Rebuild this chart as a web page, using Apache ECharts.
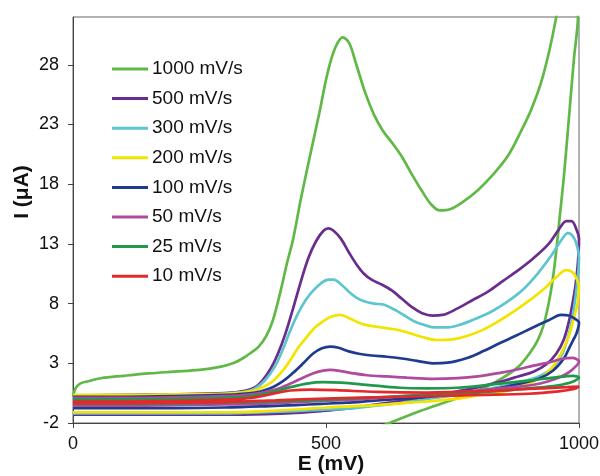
<!DOCTYPE html>
<html>
<head>
<meta charset="utf-8">
<script src="https://cdn.jsdelivr.net/npm/echarts@6/dist/echarts.min.js"></script>
<style>html,body{margin:0;padding:0;background:#fff;}#c{width:600px;height:476px;}</style>
</head>
<body>
<div id="c"></div>
<script>
// Legend names (scan rates)
const seriesNames = ['1000 mV/s','500 mV/s','300 mV/s','200 mV/s','100 mV/s','50 mV/s','25 mV/s','10 mV/s'];
const seriesColors = ['#60b946','#6a2d8e','#5ec5cf','#f3e400','#1f3b8f','#b04a9e','#1f9a4a','#e22a2e'];
const xTicks = [0, 500, 1000];
const yTicks = [-2, 3, 8, 13, 18, 23, 28];

// [E (mV), I (uA)] in scan order: forward 0 -> 1000, then reverse 1000 -> 0
const cv1000 = [[0,0.2],[5,0.9],[14,1.3],[30,1.5],[55,1.75],[100,1.95],[150,2.15],[200,2.3],[250,2.45],[290,2.7],[316,3.0],[335,3.4],[352,3.9],[367,4.4],[382,5.3],[395,6.6],[410,9.0],[423,11.4],[435,13.4],[450,16.7],[468,20.3],[487,24.0],[503,27.3],[518,29.4],[533,30.3],[546,29.8],[560,28.0],[578,25.6],[595,23.8],[612,22.5],[630,21.5],[650,20.3],[670,18.8],[690,17.4],[708,16.3],[725,15.8],[745,15.9],[770,16.5],[800,17.5],[830,18.8],[860,20.4],[885,22.4],[905,24.2],[925,26.5],[942,29.3],[955,32.0],[970,35.5],[1000,40],[998,32],[990,28.5],[980,23.5],[970,18.6],[962,15.3],[955,12.4],[948,10.0],[940,8.0],[930,6.2],[918,4.9],[900,3.7],[880,2.7],[850,1.8],[815,1.0],[780,0.4],[740,-0.2],[686,-1.0],[626,-2.0],[590,-2.6],[550,-3.2]];
const cv500 = [[0,0.3],[100,0.35],[200,0.4],[300,0.5],[340,0.7],[360,1.0],[375,1.6],[390,2.5],[405,3.8],[420,5.5],[435,7.6],[450,9.8],[465,11.8],[480,13.2],[495,14.1],[505,14.3],[515,14.1],[530,13.4],[545,12.3],[560,11.3],[575,10.5],[590,10.0],[610,9.6],[630,9.1],[650,8.4],[670,7.7],[690,7.2],[710,7.0],[730,7.05],[760,7.6],[790,8.3],[820,9.0],[850,9.9],[880,10.8],[910,11.8],[940,13.0],[960,14.2],[975,14.9],[985,14.9],[995,14.2],[1000,13.4],[998,11.5],[993,9.5],[988,8.2],[980,6.5],[970,5.0],[955,3.8],[935,2.9],[910,2.3],[880,1.9],[840,1.4],[790,0.9],[740,0.5],[690,0.1],[640,-0.2],[590,-0.5],[540,-0.8],[490,-1.0],[440,-1.15],[380,-1.25],[300,-1.3],[200,-1.3],[100,-1.3],[0,-1.3]];
const cv300 = [[0,0.3],[100,0.3],[200,0.35],[300,0.45],[340,0.6],[360,0.9],[380,1.6],[400,2.8],[415,4.2],[430,5.8],[445,7.2],[460,8.3],[475,9.1],[490,9.7],[505,10.0],[515,10.0],[530,9.6],[545,9.0],[560,8.5],[575,8.2],[595,8.0],[615,7.9],[635,7.5],[655,7.0],[675,6.5],[695,6.2],[715,6.0],[740,6.0],[770,6.3],[800,6.8],[830,7.4],[860,8.2],[890,9.2],[920,10.6],[945,12.0],[965,13.3],[978,13.9],[990,13.5],[998,12.5],[1000,11.8],[997,10.0],[990,7.6],[982,5.8],[972,4.3],[962,3.4],[945,2.5],[920,1.9],[883,1.4],[840,1.0],[790,0.6],[740,0.25],[690,-0.05],[640,-0.35],[590,-0.6],[540,-0.8],[490,-0.9],[440,-1.0],[380,-1.1],[300,-1.2],[200,-1.2],[100,-1.2],[0,-1.2]];
const cv200 = [[0,0.35],[100,0.35],[200,0.4],[300,0.45],[350,0.65],[375,1.0],[395,1.5],[415,2.4],[430,3.3],[445,4.3],[462,5.2],[478,6.0],[494,6.5],[510,6.9],[528,7.05],[545,6.8],[565,6.4],[585,6.15],[610,6.0],[635,5.85],[660,5.6],[690,5.2],[720,4.95],[750,5.0],[780,5.3],[810,5.8],[840,6.5],[870,7.3],[900,8.2],[930,9.2],[955,10.2],[975,10.8],[988,10.6],[997,9.9],[1000,9.5],[997,8.0],[990,6.8],[980,5.3],[968,4.1],[950,2.8],[929,1.9],[900,1.3],[850,0.6],[800,0.3],[750,0.0],[700,-0.2],[650,-0.35],[600,-0.5],[550,-0.6],[500,-0.7],[450,-0.85],[380,-1.0],[300,-1.1],[200,-1.1],[100,-1.1],[0,-1.1]];
const cv100 = [[0,0.2],[100,0.2],[200,0.25],[300,0.35],[360,0.55],[390,0.9],[415,1.5],[435,2.2],[455,3.0],[474,3.8],[492,4.25],[508,4.4],[525,4.3],[545,4.0],[565,3.8],[590,3.65],[620,3.55],[650,3.4],[680,3.2],[711,3.0],[740,3.05],[779,3.45],[810,4.0],[844,4.7],[875,5.3],[909,6.0],[940,6.6],[965,7.05],[980,7.0],[993,6.7],[1000,6.4],[995,5.5],[988,4.9],[982,4.4],[970,3.4],[949,2.4],[920,1.7],[883,1.3],[840,0.9],[790,0.6],[740,0.35],[690,0.15],[640,0.0],[590,-0.15],[540,-0.3],[490,-0.4],[440,-0.5],[380,-0.6],[300,-0.7],[200,-0.75],[100,-0.75],[0,-0.75]];
const cv50 = [[0,0.1],[100,0.1],[200,0.15],[300,0.25],[360,0.45],[400,0.8],[430,1.3],[460,1.9],[485,2.3],[508,2.45],[530,2.35],[555,2.15],[581,2.0],[620,1.9],[660,1.8],[711,1.7],[760,1.75],[800,1.9],[844,2.2],[880,2.5],[910,2.8],[943,3.1],[970,3.4],[988,3.45],[997,3.3],[1000,3.1],[995,2.8],[982,2.3],[965,1.9],[940,1.5],[910,1.2],[870,1.0],[820,0.8],[770,0.6],[720,0.45],[670,0.3],[620,0.15],[570,0.0],[520,-0.1],[470,-0.2],[400,-0.35],[300,-0.45],[200,-0.5],[100,-0.55],[0,-0.55]];
const cv25 = [[0,-0.05],[100,-0.05],[200,0.0],[300,0.1],[360,0.3],[400,0.65],[430,1.0],[462,1.3],[494,1.42],[530,1.38],[580,1.2],[646,0.95],[700,0.9],[760,0.95],[844,1.3],[900,1.55],[950,1.8],[988,1.95],[1000,1.8],[990,1.5],[970,1.25],[949,1.1],[900,0.9],[850,0.7],[800,0.55],[750,0.45],[700,0.35],[650,0.25],[600,0.15],[550,0.05],[500,-0.05],[400,-0.2],[300,-0.3],[200,-0.35],[100,-0.4],[0,-0.4]];
const cv10 = [[0,-0.2],[100,-0.2],[200,-0.15],[300,-0.05],[360,0.15],[400,0.5],[430,0.72],[470,0.8],[520,0.75],[600,0.6],[700,0.55],[800,0.65],[900,0.85],[976,1.0],[1000,1.05],[990,0.85],[960,0.65],[900,0.45],[800,0.35],[700,0.25],[600,0.15],[500,0.05],[400,-0.1],[300,-0.25],[200,-0.3],[100,-0.35],[0,-0.35]];

const allData = [cv1000, cv500, cv300, cv200, cv100, cv50, cv25, cv10];

const chart = echarts.init(document.getElementById('c'), null, {renderer: 'canvas'});
const font = 'Liberation Sans, Arial, sans-serif';
chart.setOption({
  animation: false,
  backgroundColor: '#fff',
  grid: {left: 73, right: 21, top: 17, bottom: 53, show: true, borderColor: '#666', borderWidth: 1, backgroundColor: 'transparent', outerBoundsMode: 'none', containLabel: false},
  legend: {
    orient: 'vertical', left: 112, top: 59, padding: 0,
    itemWidth: 36, itemHeight: 3, itemGap: 9.6, icon: 'rect',
    data: seriesNames,
    textStyle: {fontFamily: font, fontSize: 19, color: '#111', lineHeight: 20, padding: [0,0,0,-1]}
  },
  xAxis: {
    type: 'value', min: 0, max: 1000, interval: 500,
    name: 'E (mV)', nameLocation: 'middle', nameGap: 31, nameMoveOverlap: false,
    nameTextStyle: {fontFamily: font, fontSize: 21, fontWeight: 'bold', color: '#111', padding: [0,0,0,10]},
    axisLine: {onZero: false, lineStyle: {color: '#444', width: 1}},
    axisTick: {show: true, inside: false, length: 5, lineStyle: {color: '#444'}, customValues: xTicks},
    axisLabel: {fontFamily: font, fontSize: 18, color: '#111', margin: 12, customValues: xTicks, formatter: v => String(v)},
    splitLine: {show: false}
  },
  yAxis: {
    type: 'value', min: -2, max: 32,
    name: 'I (μA)', nameLocation: 'middle', nameGap: 40, nameRotate: 90, nameMoveOverlap: false,
    nameTextStyle: {fontFamily: font, fontSize: 21, fontWeight: 'bold', color: '#111', padding: [0,0,0,56]},
    axisLine: {show: true, onZero: false, lineStyle: {color: '#444', width: 1}},
    axisTick: {show: true, inside: false, length: 5, lineStyle: {color: '#444'}, customValues: yTicks},
    axisLabel: {fontFamily: font, fontSize: 18, color: '#111', margin: 14, customValues: yTicks, formatter: v => String(v)},
    splitLine: {show: false}
  },
  series: seriesNames.map((n, i) => ({
    name: n, type: 'line', data: allData[i], showSymbol: false, symbol: 'none',
    smooth: 0.35, clip: true,
    lineStyle: {color: seriesColors[i], width: 2.7},
    itemStyle: {color: seriesColors[i]},
    z: 2 + i
  }))
});
</script>
</body>
</html>
